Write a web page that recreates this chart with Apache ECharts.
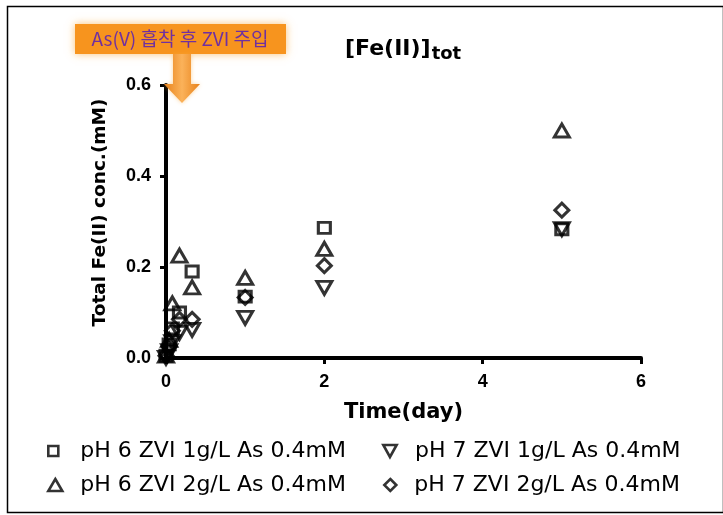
<!DOCTYPE html>
<html><head><meta charset="utf-8">
<script src="https://cdn.jsdelivr.net/npm/echarts@6/dist/echarts.min.js"></script>
<style>html,body{margin:0;padding:0;background:#fff}#c{width:723px;height:515px}</style>
</head><body><div id="c"></div>
<script>
// ---- data ----
const seriesNames = ['pH 6 ZVI 1g/L As 0.4mM', 'pH 7 ZVI 1g/L As 0.4mM', 'pH 6 ZVI 2g/L As 0.4mM', 'pH 7 ZVI 2g/L As 0.4mM'];
const timeDays = [0, 0.04, 0.08, 0.17, 0.33, 1, 2, 5];
const pH6_1g = [0.005, 0.03, 0.065, 0.10, 0.19, 0.135, 0.286, 0.283];
const pH7_1g = [0.0, 0.015, 0.035, 0.055, 0.062, 0.088, 0.154, 0.283];
const pH6_2g = [0.005, 0.04, 0.12, 0.225, 0.155, 0.176, 0.24, 0.50];
const pH7_2g = [0.005, 0.025, 0.06, 0.085, 0.085, 0.133, 0.203, 0.325];
const xTicks = [0, 2, 4, 6];
const yTicks = [0, 0.2, 0.4, 0.6];
const titleMain = '[Fe(II)]';
const titleSub = 'tot';
const calloutText = 'As(V) 흡착 후 ZVI 주입';
const xName = 'Time(day)';
const yName = 'Total Fe(II) conc.(mM)';

const triDown = 'path://M0,0 L10,0 L5,9 Z';
const symbols = ['rect', triDown, 'triangle', 'diamond'];
const symSizes = [[12, 11], [15, 13], [15, 13], [14, 14]];
const values = [pH6_1g, pH7_1g, pH6_2g, pH7_2g];

const pairs = (ys) => timeDays.map((t, i) => [t, ys[i]]);

const chart = echarts.init(document.getElementById('c'));
const legendPos = [[42, 435], [377, 435], [42, 469], [378, 469]];
const legendIconSize = [[10, 10], [14, 12], [14, 12], [12, 12]];
const legendTextPad = [[0, 0, 0, 17], [0, 0, 0, 13], [0, 0, 0, 13], [0, 0, 0, 13]];

const option = {
  animation: false,
  backgroundColor: '#fff',
  grid: { left: 166, right: 82, top: 85, bottom: 157, containLabel: false },
  title: {
    text: '{a|' + titleMain + '}{b|' + titleSub + '}',
    left: 340, top: 27,
    textStyle: {
      rich: {
        a: { fontFamily: 'DejaVu Sans', fontWeight: 'bold', fontSize: 22, color: '#000', verticalAlign: 'bottom', lineHeight: 28 },
        b: { fontFamily: 'DejaVu Sans', fontWeight: 'bold', fontSize: 18, color: '#000', verticalAlign: 'bottom', lineHeight: 28, padding: [0, 0, -3, 1] }
      }
    }
  },
  legend: seriesNames.map((n, i) => ({
    data: [{ name: n, icon: symbols[i] }],
    left: legendPos[i][0], top: legendPos[i][1],
    itemWidth: legendIconSize[i][0], itemHeight: legendIconSize[i][1],
    itemGap: 10,
    selectedMode: false,
    itemStyle: { color: '#fff', borderColor: '#000', borderWidth: 2.6 },
    textStyle: { fontFamily: 'DejaVu Sans', fontSize: 22, color: '#000', padding: legendTextPad[i] }
  })),
  xAxis: {
    type: 'value', min: xTicks[0], max: xTicks[xTicks.length - 1], interval: 2,
    name: xName, nameLocation: 'middle', nameGap: 44,
    nameTextStyle: { fontFamily: 'DejaVu Sans', fontWeight: 'bold', fontSize: 21, color: '#000' },
    axisLine: { lineStyle: { color: '#000', width: 4 } },
    axisTick: { show: true, inside: false, length: 6, lineStyle: { color: '#000', width: 3 } },
    axisLabel: { fontFamily: 'Liberation Sans', fontWeight: 'bold', fontSize: 18, color: '#000', margin: 15 },
    splitLine: { show: false }
  },
  yAxis: {
    type: 'value', min: yTicks[0], max: yTicks[yTicks.length - 1], interval: 0.2,
    name: yName, nameLocation: 'middle', nameGap: 56,
    nameTextStyle: { fontFamily: 'DejaVu Sans', fontWeight: 'bold', fontSize: 18.5, color: '#000', padding: [0, 0, 0, 18] },
    axisLine: { lineStyle: { color: '#000', width: 4 } },
    axisTick: { show: true, inside: false, length: 6, lineStyle: { color: '#000', width: 3 } },
    axisLabel: { fontFamily: 'Liberation Sans', fontWeight: 'bold', fontSize: 18, color: '#000', margin: 15,
      formatter: (v) => v.toFixed(1) },
    splitLine: { show: false }
  },
  series: seriesNames.map((n, i) => ({
    name: n, type: 'scatter',
    data: pairs(values[i]),
    symbol: symbols[i], symbolSize: symSizes[i],
    itemStyle: { color: 'rgba(0,0,0,0)', borderColor: '#000', borderWidth: 3 },
    emphasis: { disabled: true },
    z: 3
  })),
  graphic: [
    { type: 'rect', left: 5, top: 4, z: 0, silent: true,
      shape: { width: 716, height: 506 }, style: { fill: 'none', stroke: '#000', lineWidth: 1.5 } },
    { type: 'rect', x: 75, y: 24, z: 10, silent: true,
      shape: { width: 211, height: 30 },
      style: { fill: '#F7941E', shadowBlur: 8, shadowColor: 'rgba(250,170,60,0.7)' } },
    { type: 'text', x: 180, y: 39, z: 11, silent: true,
      style: { text: calloutText, fill: '#7030A0', font: '19px "Noto Sans CJK KR", "Liberation Sans", sans-serif', align: 'center', verticalAlign: 'middle' } },
    { type: 'polygon', z: 10, silent: true,
      shape: { points: [[173, 54], [191, 54], [191, 84], [200, 84], [182, 103], [164, 84], [173, 84]] },
      style: { fill: new echarts.graphic.LinearGradient(0, 0, 1, 0, [
        { offset: 0, color: '#E8821A' }, { offset: 0.5, color: '#FBB25A' }, { offset: 1, color: '#E8821A' }]),
        shadowBlur: 4, shadowColor: 'rgba(250,170,60,0.5)' } }
  ]
};
chart.setOption(option);
</script>
</body></html>
